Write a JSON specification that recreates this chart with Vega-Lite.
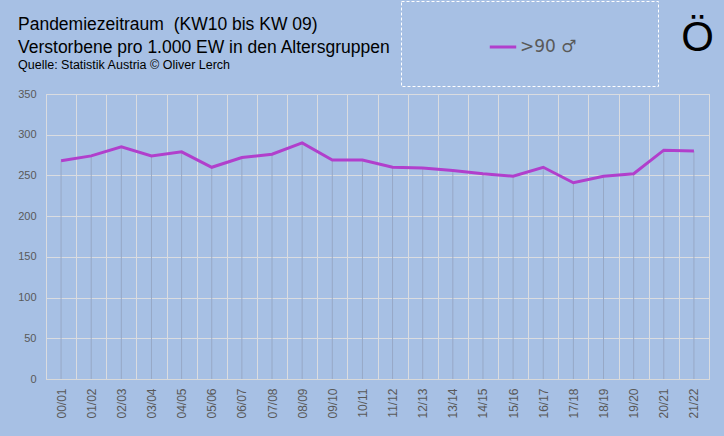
{
  "$schema": "https://vega.github.io/schema/vega-lite/v6.json",
  "autosize": {"type": "none"},
  "padding": {"left": 46, "top": 94, "right": 15, "bottom": 57},
  "width": 663,
  "height": 285,
  "background": "#A7C0E4",
  "title": {
    "text": ["Pandemiezeitraum\u00a0 (KW10 bis KW 09)", "Verstorbene pro 1.000 EW in den Altersgruppen"],
    "subtitle": "Quelle: Statistik Austria © Oliver Lerch",
    "anchor": "start",
    "frame": "group",
    "dx": -28,
    "dy": 71,
    "offset": 0,
    "font": "Liberation Sans",
    "fontSize": 17.5,
    "fontWeight": "normal",
    "lineHeight": 23,
    "color": "#000000",
    "subtitleFont": "Liberation Sans",
    "subtitleFontSize": 12.5,
    "subtitleColor": "#000000",
    "subtitlePadding": 3
  },
  "data": {
    "values": [
      {"Saison": "00/01", "Wert": 268, "Gruppe": ">90 ♂"},
      {"Saison": "01/02", "Wert": 274, "Gruppe": ">90 ♂"},
      {"Saison": "02/03", "Wert": 285, "Gruppe": ">90 ♂"},
      {"Saison": "03/04", "Wert": 274, "Gruppe": ">90 ♂"},
      {"Saison": "04/05", "Wert": 279, "Gruppe": ">90 ♂"},
      {"Saison": "05/06", "Wert": 260, "Gruppe": ">90 ♂"},
      {"Saison": "06/07", "Wert": 272, "Gruppe": ">90 ♂"},
      {"Saison": "07/08", "Wert": 276, "Gruppe": ">90 ♂"},
      {"Saison": "08/09", "Wert": 290, "Gruppe": ">90 ♂"},
      {"Saison": "09/10", "Wert": 269, "Gruppe": ">90 ♂"},
      {"Saison": "10/11", "Wert": 269, "Gruppe": ">90 ♂"},
      {"Saison": "11/12", "Wert": 260, "Gruppe": ">90 ♂"},
      {"Saison": "12/13", "Wert": 259, "Gruppe": ">90 ♂"},
      {"Saison": "13/14", "Wert": 256, "Gruppe": ">90 ♂"},
      {"Saison": "14/15", "Wert": 252, "Gruppe": ">90 ♂"},
      {"Saison": "15/16", "Wert": 249, "Gruppe": ">90 ♂"},
      {"Saison": "16/17", "Wert": 260, "Gruppe": ">90 ♂"},
      {"Saison": "17/18", "Wert": 241, "Gruppe": ">90 ♂"},
      {"Saison": "18/19", "Wert": 249, "Gruppe": ">90 ♂"},
      {"Saison": "19/20", "Wert": 252, "Gruppe": ">90 ♂"},
      {"Saison": "20/21", "Wert": 281, "Gruppe": ">90 ♂"},
      {"Saison": "21/22", "Wert": 280, "Gruppe": ">90 ♂"}
    ]
  },
  "encoding": {
    "x": {
      "field": "Saison",
      "type": "ordinal",
      "scale": {"type": "band", "paddingInner": 0, "paddingOuter": 0},
      "axis": {
        "title": null,
        "labelAngle": -90,
        "labelFont": "Liberation Sans",
        "labelFontSize": 12,
        "labelColor": "#595959",
        "labelPadding": 9,
        "ticks": false,
        "tickBand": "extent",
        "grid": true,
        "gridColor": "#DADCE0",
        "gridWidth": 1,
        "domainColor": "#D9D9D9"
      }
    }
  },
  "layer": [
    {
      "mark": {"type": "rule", "color": "#97A8C6", "strokeWidth": 1},
      "encoding": {
        "y": {"field": "Wert", "type": "quantitative"},
        "y2": {"datum": 0}
      }
    },
    {
      "mark": {"type": "line", "strokeWidth": 3},
      "encoding": {
        "y": {
          "field": "Wert",
          "type": "quantitative",
          "scale": {"domain": [0, 350]},
          "axis": {
            "values": [0, 50, 100, 150, 200, 250, 300, 350],
            "title": "Ö",
            "titleAngle": 0,
            "titleX": 651,
            "titleY": -44,
            "titleAlign": "center",
            "titleBaseline": "alphabetic",
            "titleFont": "Liberation Sans",
            "titleFontSize": 42,
            "titleFontWeight": "normal",
            "titleColor": "#000000",
            "labelFont": "Liberation Sans",
            "labelFontSize": 11,
            "labelColor": "#595959",
            "labelPadding": 10,
            "ticks": false,
            "domain": false,
            "gridColor": "#DADCE0",
            "gridWidth": 1
          }
        },
        "color": {
          "field": "Gruppe",
          "type": "nominal",
          "scale": {"range": ["#B13FCC"]},
          "legend": {
            "orient": "none",
            "legendX": 355,
            "legendY": -93,
            "title": "\u2800\u2800\u2800\u2800",
            "titleOrient": "left",
            "titleFont": "DejaVu Sans",
            "titleFontSize": 16,
            "titleColor": "#A7C0E4",
            "titlePadding": 6,
            "symbolType": "stroke",
            "symbolSize": 700,
            "symbolStrokeWidth": 3,
            "labelFont": "DejaVu Sans",
            "labelFontSize": 17,
            "labelColor": "#595959",
            "labelOffset": 2,
            "labelExpr": "datum.label + '\u2800\u2800\u2800\u2800'",
            "padding": 31,
            "strokeColor": "#FFFFFF",
            "encode": {
              "legend": {"update": {"strokeDash": {"value": [3, 2]}}}
            }
          }
        }
      }
    }
  ],
  "config": {
    "view": {"stroke": "#D9D9D9"}
  }
}
